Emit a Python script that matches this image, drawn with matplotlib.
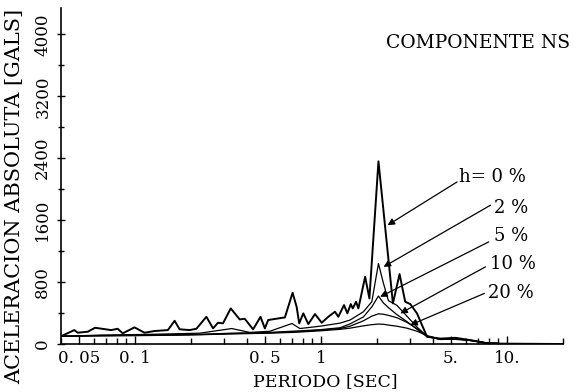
import matplotlib
matplotlib.use('Agg')
import matplotlib.pyplot as plt
from matplotlib.ticker import FixedLocator, MultipleLocator, NullFormatter

# h = 0 % (undamped) spectrum
per_h0 = [0.040, 0.0472, 0.0492, 0.0557, 0.0610, 0.0744, 0.0807, 0.0859, 0.0994,
          0.1125, 0.1274, 0.1503, 0.1633, 0.1738, 0.1967, 0.2138, 0.2421, 0.2628,
          0.2794, 0.2973, 0.3271, 0.3656, 0.3891, 0.4315, 0.4731, 0.4991, 0.5199,
          0.6398, 0.7036, 0.7396, 0.7638, 0.8035, 0.8549, 0.9283, 1.009, 1.095,
          1.189, 1.239, 1.330, 1.386, 1.446, 1.482, 1.544, 1.589, 1.727, 1.821,
          2.037, 2.436, 2.645, 2.837, 3.020, 3.282, 3.716, 4.382, 5.279, 6.356,
          7.658, 9.225, 20.0]
acc_h0 = [100, 180, 146, 159, 210, 180, 197, 138, 215,
          146, 168, 180, 300, 190, 180, 197, 352, 202,
          275, 267, 460, 318, 326, 190, 352, 202, 310,
          344, 662, 481, 267, 396, 258, 387, 275, 352,
          417, 352, 503, 396, 516, 460, 546, 460, 868, 589,
          2360, 525, 903, 546, 516, 396, 94, 70, 80, 50,
          15, 5, 0]

# damped spectra share one period grid
per_damp = [0.040, 0.0644, 0.1197, 0.2228, 0.3313, 0.4142, 0.5311, 0.6978, 0.7707,
            0.988, 1.266, 1.433, 1.691, 1.876, 2.037, 2.167, 2.305, 2.559, 2.897,
            3.281, 3.715, 4.382, 5.279, 6.356, 7.658, 9.225, 20.0]
acc_h2 = [100, 115, 125, 140, 200, 150, 165, 265, 200,
          230, 270, 310, 417, 546, 1040, 783, 560, 500, 360,
          220, 100, 65, 75, 50, 15, 5, 0]
acc_h5 = [100, 110, 115, 125, 140, 145, 150, 165, 170,
          185, 210, 260, 350, 480, 620, 530, 470, 380, 290,
          190, 95, 60, 70, 48, 15, 5, 0]
acc_h10 = [100, 108, 112, 122, 135, 140, 145, 158, 163,
           180, 200, 230, 300, 360, 390, 385, 370, 340, 280,
           200, 100, 58, 65, 46, 15, 5, 0]
acc_h20 = [100, 105, 110, 120, 130, 135, 140, 150, 155,
           170, 190, 205, 235, 250, 258, 255, 245, 230, 205,
           165, 110, 60, 60, 45, 15, 5, 0]

labels = ['h= 0 %', '2 %', '5 %', '10 %', '20 %']
# arrow tip (on the curve) and arrow tail (at the label), in data units
tips = [(2.28, 1535), (2.17, 997), (2.08, 610), (2.67, 396), (3.02, 245)]
tails = [(5.39, 2094), (8.15, 1793), (7.98, 1320), (7.66, 997), (7.56, 654)]
label_pos = [(5.50, 2154), (8.50, 1754), (8.50, 1393), (8.10, 1032), (7.90, 658)]

x_major = [0.05, 0.1, 0.5, 1, 5, 10]
x_major_labels = ['0. 05', '0. 1', '0. 5', '1', '5.', '10.']
y_major = [0, 800, 1600, 2400, 3200, 4000]

plt.rcParams['font.family'] = ['DejaVu Serif']

fig = plt.figure(figsize=(5.78, 3.92), dpi=100)
ax = fig.add_axes([0.1055, 0.1224, 0.8685, 0.857])

ax.plot(per_h0, acc_h0, color='black', lw=1.4)
ax.plot(per_damp, acc_h2, color='black', lw=0.9)
ax.plot(per_damp, acc_h5, color='black', lw=0.9)
ax.plot(per_damp, acc_h10, color='black', lw=0.9)
ax.plot(per_damp, acc_h20, color='black', lw=0.9)

ax.set_xscale('log')
ax.set_xlim(0.04, 20)
ax.set_ylim(0, 4340)

ax.xaxis.set_major_locator(FixedLocator(x_major))
ax.set_xticklabels(x_major_labels, fontsize=12)
minor = [v * 10 ** d for d in (-2, -1, 0, 1) for v in range(2, 10)]
ax.xaxis.set_minor_locator(FixedLocator([m for m in minor if m not in x_major]))
ax.xaxis.set_minor_formatter(NullFormatter())

ax.yaxis.set_major_locator(FixedLocator(y_major))
ax.yaxis.set_minor_locator(MultipleLocator(400))
ax.set_yticklabels([str(v) for v in y_major], fontsize=12, rotation=90, va='center')

ax.tick_params(which='major', direction='in', length=6, width=1, pad=4)
ax.tick_params(which='minor', direction='in', length=4, width=1)
ax.tick_params(axis='y', which='both', direction='inout')

for s in ('top', 'right'):
    ax.spines[s].set_visible(False)
for s in ('left', 'bottom'):
    ax.spines[s].set_linewidth(1.2)

ax.set_xlabel('PERIODO [SEC]', fontsize=12.5)
ax.xaxis.set_label_coords(0.526, -0.113)
ax.xaxis.label.set_va('center')
ax.set_ylabel('ACELERACION ABSOLUTA [GALS]', fontsize=15)
ax.yaxis.set_label_coords(-0.092, 0.44)
ax.yaxis.label.set_va('center')

ax.text(1.014, 0.896, 'COMPONENTE NS', transform=ax.transAxes,
        ha='right', va='center', fontsize=13.5)

for lab, tip, tail, pos in zip(labels, tips, tails, label_pos):
    ax.annotate('', xy=tip, xytext=tail,
                arrowprops=dict(arrowstyle='-|>', color='black', lw=0.9,
                                mutation_scale=10, shrinkA=0, shrinkB=0))
    ax.text(pos[0], pos[1], lab, ha='left', va='center', fontsize=13)

fig.savefig('out.png', dpi=100)
